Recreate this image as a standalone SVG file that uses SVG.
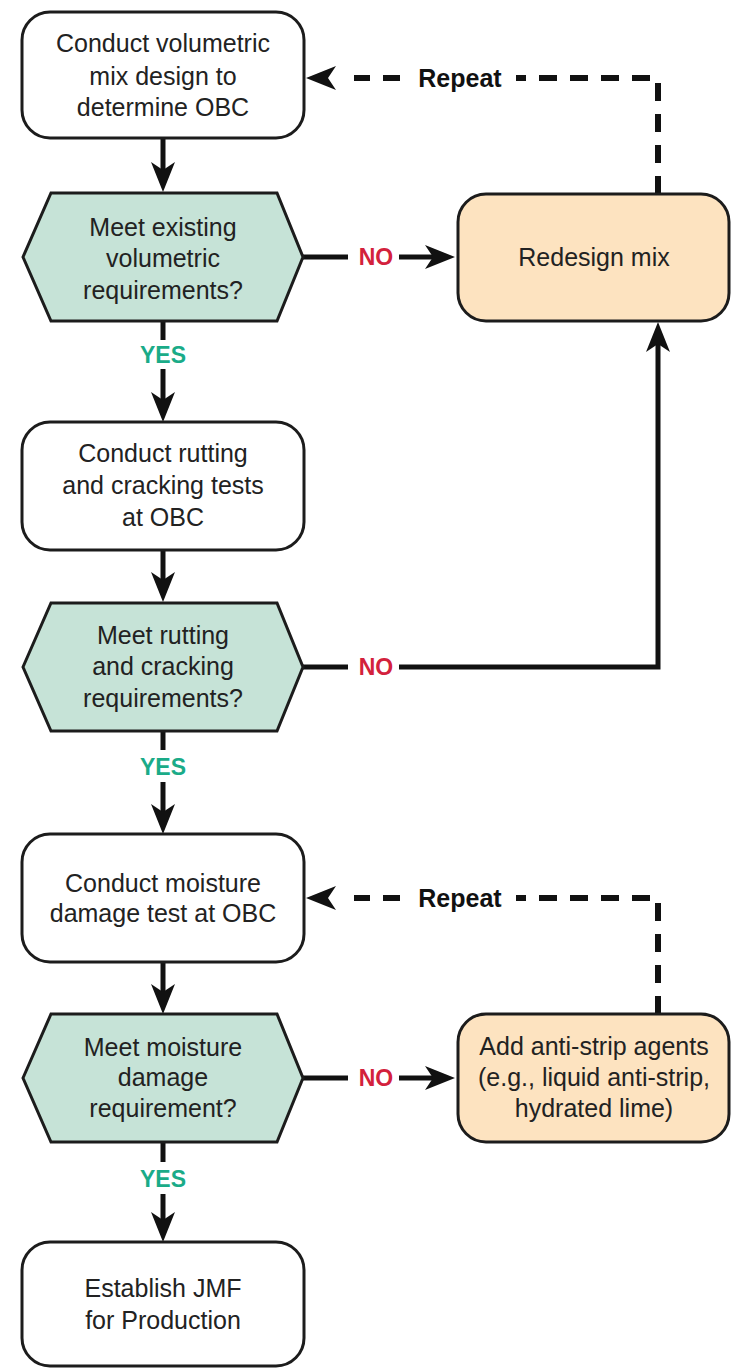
<svg xmlns="http://www.w3.org/2000/svg" width="732" height="1370" viewBox="0 0 732 1370">
  <style>
    .box { fill: #ffffff; stroke: #1c1c1c; stroke-width: 3; }
    .dec { fill: #c6e3d7; stroke: #1c1c1c; stroke-width: 3; }
    .act { fill: #fde3c0; stroke: #1c1c1c; stroke-width: 3; }
    .t { font-family: "Liberation Sans", Arial, sans-serif; font-size: 25px; fill: #222; text-anchor: middle; }
    .no { font-family: "Liberation Sans", Arial, sans-serif; font-size: 23px; font-weight: bold; fill: #d3213c; text-anchor: middle; }
    .yes { font-family: "Liberation Sans", Arial, sans-serif; font-size: 23px; font-weight: bold; fill: #1aab88; text-anchor: middle; }
    .rep { font-family: "Liberation Sans", Arial, sans-serif; font-size: 25px; font-weight: bold; fill: #111; text-anchor: middle; }
    .ln { fill: none; stroke: #111; stroke-width: 5; stroke-linejoin: miter; }
    .dash { fill: none; stroke: #111; stroke-width: 6; stroke-dasharray: 18 13; }
    .seg { fill: none; stroke: #111; stroke-width: 6; }
  </style>
  <defs>
    <marker id="head" viewBox="0 0 30 24" refX="22" refY="12" markerWidth="30" markerHeight="24" markerUnits="userSpaceOnUse" orient="auto">
      <path d="M0,0 L30,12 L0,24 L8,12 Z" fill="#111"/>
    </marker>
  </defs>
  <rect width="732" height="1370" fill="#ffffff"/>

  <!-- connectors -->
  <g id="connectors">
    <path class="ln" d="M163,138 V184" marker-end="url(#head)"/>
    <path class="ln" d="M302,257 H348"/>
    <path class="ln" d="M399,257 H447" marker-end="url(#head)"/>
    <path class="ln" d="M163,321 V340"/>
    <path class="ln" d="M163,369 V414" marker-end="url(#head)"/>
    <path class="ln" d="M163,550 V594" marker-end="url(#head)"/>
    <path class="ln" d="M302,667 H348"/>
    <path class="ln" d="M399,667 H658 V330" marker-end="url(#head)"/>
    <path class="ln" d="M163,730 V750"/>
    <path class="ln" d="M163,782 V826" marker-end="url(#head)"/>
    <path class="ln" d="M163,962 V1006" marker-end="url(#head)"/>
    <path class="ln" d="M302,1078 H348"/>
    <path class="ln" d="M399,1078 H447" marker-end="url(#head)"/>
    <path class="ln" d="M163,1142 V1162"/>
    <path class="ln" d="M163,1194 V1234" marker-end="url(#head)"/>
    <!-- dashed repeat loops -->
    <path class="dash" d="M658,194 V78 H516"/>
    <path class="seg" d="M400,78 H383 M370,78 H354"/>
    <path class="seg" d="M326,78 H314" marker-end="url(#head)"/>
    <path class="dash" d="M658,1014 V898 H516"/>
    <path class="seg" d="M400,898 H383 M370,898 H354"/>
    <path class="seg" d="M326,898 H314" marker-end="url(#head)"/>
    <text class="no" x="376" y="265">NO</text>
    <text class="no" x="376" y="675">NO</text>
    <text class="no" x="376" y="1086">NO</text>
    <text class="yes" x="163" y="363">YES</text>
    <text class="yes" x="163" y="775">YES</text>
    <text class="yes" x="163" y="1187">YES</text>
    <text class="rep" x="460" y="87">Repeat</text>
    <text class="rep" x="460" y="907">Repeat</text>
  </g>

  <g id="volumetric-design">
    <rect class="box" x="22" y="12" width="282" height="126" rx="28"/>
    <text class="t" x="163" y="52">Conduct volumetric</text>
    <text class="t" x="163" y="85">mix design to</text>
    <text class="t" x="163" y="116">determine OBC</text>
  </g>

  <g id="volumetric-check">
    <polygon class="dec" points="23,257 51,193 277,193 303,257 277,321 51,321"/>
    <text class="t" x="163" y="236">Meet existing</text>
    <text class="t" x="163" y="267">volumetric</text>
    <text class="t" x="163" y="299">requirements?</text>
  </g>

  <g id="redesign">
    <rect class="act" x="458" y="194" width="271" height="127" rx="28"/>
    <text class="t" x="594" y="266">Redesign mix</text>
  </g>

  <g id="rutting-tests">
    <rect class="box" x="22" y="422" width="282" height="128" rx="28"/>
    <text class="t" x="163" y="462">Conduct rutting</text>
    <text class="t" x="163" y="494">and cracking tests</text>
    <text class="t" x="163" y="526">at OBC</text>
  </g>

  <g id="rutting-check">
    <polygon class="dec" points="23,667 51,603 277,603 303,667 277,731 51,731"/>
    <text class="t" x="163" y="644">Meet rutting</text>
    <text class="t" x="163" y="675">and cracking</text>
    <text class="t" x="163" y="707">requirements?</text>
  </g>

  <g id="moisture-test">
    <rect class="box" x="22" y="834" width="282" height="128" rx="28"/>
    <text class="t" x="163" y="892">Conduct moisture</text>
    <text class="t" x="163" y="922">damage test at OBC</text>
  </g>

  <g id="moisture-check">
    <polygon class="dec" points="23,1078 51,1014 277,1014 303,1078 277,1142 51,1142"/>
    <text class="t" x="163" y="1056">Meet moisture</text>
    <text class="t" x="163" y="1086">damage</text>
    <text class="t" x="163" y="1117">requirement?</text>
  </g>

  <g id="anti-strip">
    <rect class="act" x="458" y="1014" width="271" height="128" rx="28"/>
    <text class="t" x="594" y="1055">Add anti-strip agents</text>
    <text class="t" x="594" y="1086">(e.g., liquid anti-strip,</text>
    <text class="t" x="594" y="1117">hydrated lime)</text>
  </g>

  <g id="jmf">
    <rect class="box" x="22" y="1242" width="282" height="124" rx="28"/>
    <text class="t" x="163" y="1297">Establish JMF</text>
    <text class="t" x="163" y="1329">for Production</text>
  </g>
</svg>
